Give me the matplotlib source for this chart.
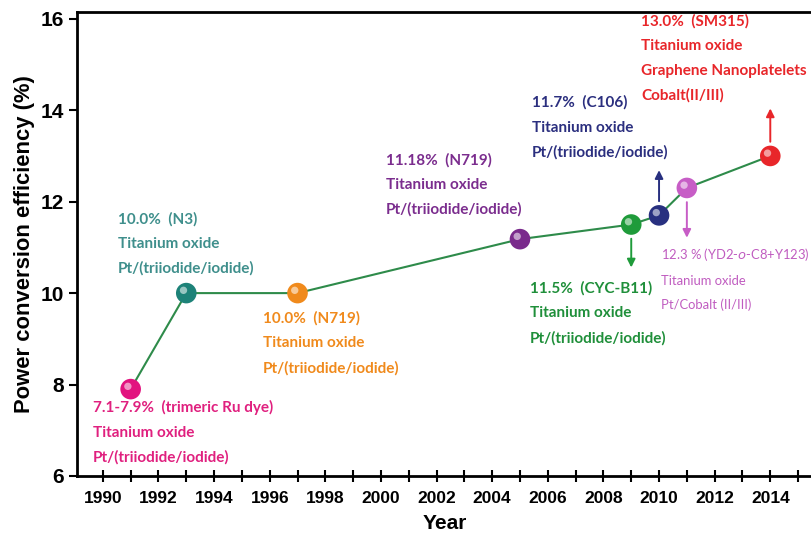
import matplotlib
matplotlib.use("Agg")
import matplotlib.pyplot as plt
from matplotlib.ticker import MultipleLocator
import matplotlib.transforms as mtransforms

# --- Dados ---
anos = [1991, 1993, 1997, 2005, 2009, 2010, 2011, 2014]
eficiencia = [7.9, 10.0, 10.0, 11.18, 11.5, 11.7, 12.3, 13.0]
cores = ["#e2137f", "#1d8278", "#f08a1c", "#7a2a8c", "#1f9b3a", "#283080", "#c75dc6", "#e8262a"]
cores_texto = ["#e0207f", "#3f8f8c", "#f08a1c", "#7b2d8e", "#1f8f3a", "#2b2f7f", "#c05cc0", "#e8262a"]

rotulos = [
    "7.1-7.9%  (trimeric Ru dye)\nTitanium oxide\nPt/(triiodide/iodide)",
    "10.0%  (N3)\nTitanium oxide\nPt/(triiodide/iodide)",
    "10.0%  (N719)\nTitanium oxide\nPt/(triiodide/iodide)",
    "11.18%  (N719)\nTitanium oxide\nPt/(triiodide/iodide)",
    "11.5%  (CYC-B11)\nTitanium oxide\nPt/(triiodide/iodide)",
    "11.7%  (C106)\nTitanium oxide\nPt/(triiodide/iodide)",
    "12.3 % (YD2-$\\it{o}$-C8+Y123)\nTitanium oxide\nPt/Cobalt (II/III)",
    "13.0%  (SM315)\nTitanium oxide\nGraphene Nanoplatelets\nCobalt(II/III)",
]
# posição (canto superior esquerdo) de cada texto
texto_x = [1989.64, 1990.54, 1995.76, 2000.18, 2005.36, 2005.43, 2010.07, 2009.35]
texto_y = [7.66, 11.78, 9.61, 13.07, 10.27, 14.32, 11.03, 16.1]

# setas: (ano, y inicial, y final, cor)
setas = [
    (2009, 11.25, 10.5, cores[4]),
    (2010, 11.95, 12.75, cores[5]),
    (2011, 12.05, 11.15, cores[6]),
    (2014, 13.25, 14.1, cores[7]),
]

fig = plt.figure(figsize=(8.12, 5.42), dpi=100)
ax = fig.add_axes([0.0948, 0.1218, 0.9052, 0.8562])

ax.plot(anos, eficiencia, color="#2e8b4a", linewidth=1.5, zorder=2)
ax.scatter(anos, eficiencia, s=220, c=cores, edgecolors="none", zorder=3)
# brilho das "esferas"
brilho = mtransforms.offset_copy(ax.transData, fig=fig, x=-2, y=2, units="points")
ax.scatter(anos, eficiencia, s=28, c="white", alpha=0.55, edgecolors="none",
           transform=brilho, zorder=4)

for i, (x, y, txt, c) in enumerate(zip(texto_x, texto_y, rotulos, cores_texto)):
    if i == 6:
        ax.text(x, y, txt, color=c, fontsize=9.4, fontweight="normal", family="Lato",
                va="top", ha="left", linespacing=2.15)
    else:
        ax.text(x, y, txt, color=c, fontsize=11, fontweight="bold", family="Lato",
                va="top", ha="left", linespacing=1.95)

for x, y0, y1, c in setas:
    ax.annotate("", xy=(x, y1), xytext=(x, y0),
                arrowprops=dict(arrowstyle="-|>", color=c, lw=1.4, mutation_scale=12))

ax.set_xlim(1989.07, 2015.5)
ax.set_ylim(6, 16.15)
ax.xaxis.set_major_locator(MultipleLocator(2))
ax.xaxis.set_minor_locator(MultipleLocator(1))
ax.set_yticks([6, 8, 10, 12, 14, 16])

for s in ["left", "bottom", "top"]:
    ax.spines[s].set_linewidth(2)
ax.spines["right"].set_visible(False)

ax.tick_params(axis="x", which="both", direction="inout", length=9, width=1.5, pad=6)
ax.tick_params(axis="y", which="major", direction="out", length=6, width=1.5, right=False)

for lab in ax.get_xticklabels():
    lab.set_family("Liberation Sans")
    lab.set_fontweight("bold")
    lab.set_fontsize(12.5)
for lab in ax.get_yticklabels():
    lab.set_family("Liberation Sans")
    lab.set_fontweight("bold")
    lab.set_fontsize(15)

ax.set_xlabel("Year", fontsize=15, fontweight="bold", family="Liberation Sans", labelpad=6)
ax.set_ylabel("Power conversion efficiency (%)", fontsize=15.8, fontweight="bold",
              family="Liberation Sans", labelpad=4)

fig.savefig("out.png", dpi=100)
